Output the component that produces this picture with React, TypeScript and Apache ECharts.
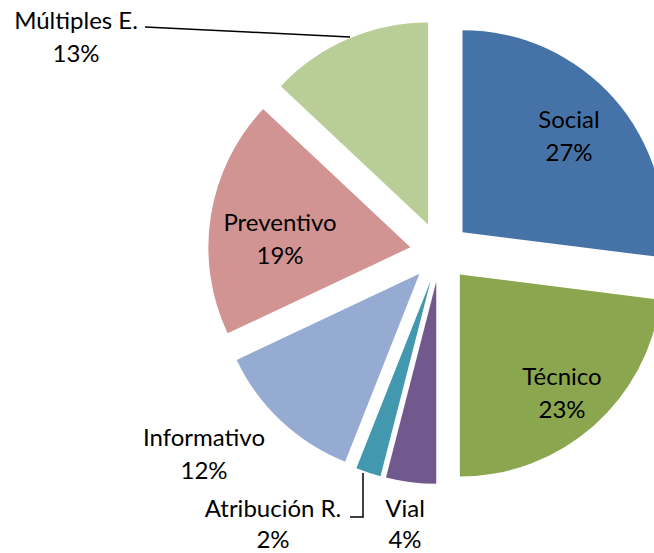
import React, { useEffect, useRef } from "react";
import * as echarts from "echarts";

const categories = ["Social", "Técnico", "Vial", "Atribución R.", "Informativo", "Preventivo", "Múltiples E."];
const values = [27, 23, 4, 2, 12, 19, 13];
const colors = ["#4673A7", "#8AA64F", "#71598E", "#4299AF", "#95ABD1", "#D29493", "#B9CE97"];

// label placement per slice (chart pixels)
const labelPlace: Record<number, { x: number; y: number; lh?: number; line?: number[][] }> = {
  0: { x: 569, y: 135 },
  1: { x: 562, y: 392 },
  2: { x: 405, y: 523, lh: 31 },
  3: { x: 273, y: 523, lh: 31, line: [[363, 473], [363, 517], [350, 517]] },
  4: { x: 204, y: 453 },
  5: { x: 280, y: 238 },
  6: { x: 76, y: 36, line: [[350, 37], [248, 32], [145, 27]] },
};

const CX = 440;
const CY = 252;
const R = 202;
const EXPLODE = 30;

export default function App() {
  const ref = useRef<HTMLDivElement>(null);
  useEffect(() => {
    if (!ref.current) return;
    const chart = echarts.init(ref.current, null, { renderer: "svg" });
    const total = values.reduce((a, b) => a + b, 0);
    const outside = new Set([2, 3, 4, 6]);
    let cum = 0;
    const series = categories.map((_, k) => {
      const mid = ((cum + values[k] / 2) / total) * Math.PI * 2;
      cum += values[k];
      const center = [CX + EXPLODE * Math.sin(mid), CY - EXPLODE * Math.cos(mid)];
      const data = categories.map((name, i) => {
        const visible = i === k;
        const pl = labelPlace[i];
        return {
          name,
          value: values[i],
          itemStyle: { color: visible ? colors[i] : "rgba(0,0,0,0)" },
          label: {
            show: visible,
            position: outside.has(i) ? "outside" : "inside",
            lineHeight: pl && pl.lh ? pl.lh : 33,
          },
          labelLine: { show: visible && (i === 3 || i === 6) },
        };
      });
      return {
        type: "pie",
        name: categories[k],
        center,
        radius: [0, R],
        startAngle: 90,
        clockwise: true,
        avoidLabelOverlap: false,
        silent: true,
        emphasis: { disabled: true },
        data,
        label: {
          color: "#000000",
          fontFamily: "Lato",
          fontSize: 24,
          lineHeight: 33,
          align: "center",
          formatter: (p: any) => `${p.name}\n${p.value}%`,
        },
        labelLine: {
          lineStyle: { color: "#000000", width: 1.5 },
        },
        labelLayout: (params: any) => {
          const pl = labelPlace[params.dataIndex];
          if (!pl) return {};
          const res: any = { x: pl.x, y: pl.y, align: "center", verticalAlign: "middle" };
          if (pl.line) res.labelLinePoints = pl.line;
          return res;
        },
      };
    });
    chart.setOption({
      animation: false,
      backgroundColor: "#ffffff",
      series,
    });
    return () => chart.dispose();
  }, []);
  return (
    <div
      ref={ref}
      style={{ position: "fixed", left: 0, top: 0, width: 654, height: 553 }}
    />
  );
}
